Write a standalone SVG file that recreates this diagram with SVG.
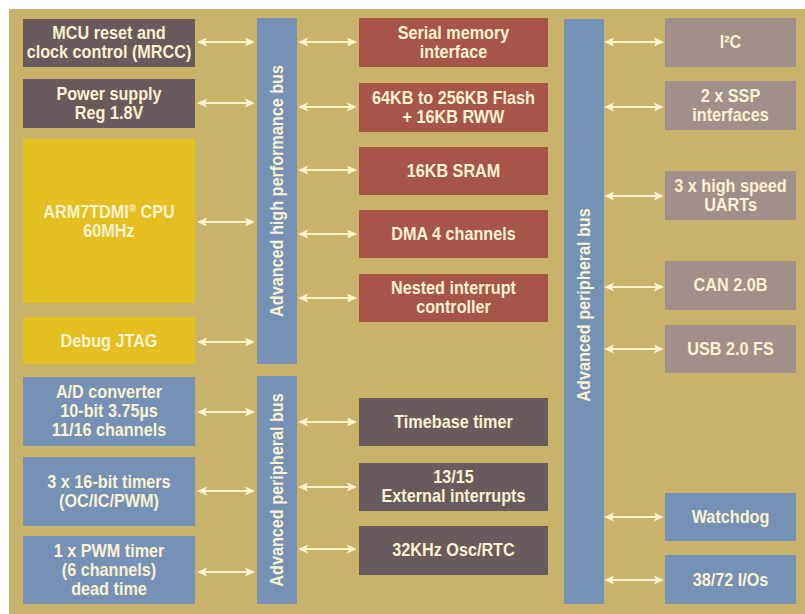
<svg xmlns="http://www.w3.org/2000/svg" width="805" height="614" viewBox="0 0 805 614">
<defs>
<style>
.t{font-family:"Liberation Sans",Arial,sans-serif;font-weight:bold;font-size:18px;fill:#FBF2D0;text-anchor:middle}
.dk{fill:#695A5D}.rd{fill:#A85549}.yl{fill:#E3BF20}.bl{fill:#7591B5}.mv{fill:#A18F8C}
.ar{stroke:#FBF2D0;stroke-width:2.2;fill:none;marker-start:url(#ah);marker-end:url(#ah)}
</style>
<marker id="ah" viewBox="0 0 10 10" markerWidth="10" markerHeight="10" markerUnits="userSpaceOnUse" refX="6" refY="5" orient="auto-start-reverse">
<path d="M0,0.5 L10,5 L0,9.5 L2,5 z" fill="#FBF2D0"/>
</marker>
</defs>
<rect x="0" y="0" width="805" height="614" fill="#FFFFFF"/>
<rect x="9" y="9" width="796" height="605" fill="#C9B36B"/>

<g id="connectors">
<line class="ar" x1="201" y1="42" x2="251" y2="42"/>
<line class="ar" x1="201" y1="103" x2="251" y2="103"/>
<line class="ar" x1="201" y1="222" x2="251" y2="222"/>
<line class="ar" x1="201" y1="342" x2="251" y2="342"/>
<line class="ar" x1="201" y1="412" x2="251" y2="412"/>
<line class="ar" x1="201" y1="491" x2="251" y2="491"/>
<line class="ar" x1="201" y1="572" x2="251" y2="572"/>
<line class="ar" x1="302" y1="42" x2="353" y2="42"/>
<line class="ar" x1="302" y1="107" x2="353" y2="107"/>
<line class="ar" x1="302" y1="170" x2="353" y2="170"/>
<line class="ar" x1="302" y1="234" x2="353" y2="234"/>
<line class="ar" x1="302" y1="298" x2="353" y2="298"/>
<line class="ar" x1="302" y1="422" x2="353" y2="422"/>
<line class="ar" x1="302" y1="487" x2="353" y2="487"/>
<line class="ar" x1="302" y1="549" x2="353" y2="549"/>
<line class="ar" x1="608" y1="42" x2="660" y2="42"/>
<line class="ar" x1="608" y1="107" x2="660" y2="107"/>
<line class="ar" x1="608" y1="196" x2="660" y2="196"/>
<line class="ar" x1="608" y1="287" x2="660" y2="287"/>
<line class="ar" x1="608" y1="349" x2="660" y2="349"/>
<line class="ar" x1="608" y1="517" x2="660" y2="517"/>
<line class="ar" x1="608" y1="580" x2="660" y2="580"/>
</g>

<g id="mrcc"><rect class="dk" x="23" y="19" width="172" height="48"/><text class="t" transform="matrix(0.9 0 0 1 109 0)" x="0" y="39">MCU reset and</text><text class="t" transform="matrix(0.9 0 0 1 109 0)" x="0" y="58">clock control (MRCC)</text></g>
<g id="power"><rect class="dk" x="23" y="79" width="172" height="49"/><text class="t" transform="matrix(0.9 0 0 1 109 0)" x="0" y="100">Power supply</text><text class="t" transform="matrix(0.9 0 0 1 109 0)" x="0" y="119">Reg 1.8V</text></g>
<g id="cpu"><rect class="yl" x="23" y="139" width="172" height="164"/><text class="t" transform="matrix(0.9 0 0 1 109 0)" x="0" y="218">ARM7TDMI<tspan font-size="11" baseline-shift="60%">®</tspan> CPU</text><text class="t" transform="matrix(0.9 0 0 1 109 0)" x="0" y="237">60MHz</text></g>
<g id="jtag"><rect class="yl" x="23" y="317" width="172" height="47"/><text class="t" transform="matrix(0.9 0 0 1 109 0)" x="0" y="347">Debug JTAG</text></g>
<g id="adc"><rect class="bl" x="23" y="377" width="172" height="69"/><text class="t" transform="matrix(0.9 0 0 1 109 0)" x="0" y="398">A/D converter</text><text class="t" transform="matrix(0.9 0 0 1 109 0)" x="0" y="417">10-bit 3.75µs</text><text class="t" transform="matrix(0.9 0 0 1 109 0)" x="0" y="436">11/16 channels</text></g>
<g id="timers"><rect class="bl" x="23" y="457" width="172" height="69"/><text class="t" transform="matrix(0.9 0 0 1 109 0)" x="0" y="488">3 x 16-bit timers</text><text class="t" transform="matrix(0.9 0 0 1 109 0)" x="0" y="507">(OC/IC/PWM)</text></g>
<g id="pwm"><rect class="bl" x="23" y="536" width="172" height="68"/><text class="t" transform="matrix(0.9 0 0 1 109 0)" x="0" y="557">1 x PWM timer</text><text class="t" transform="matrix(0.9 0 0 1 109 0)" x="0" y="576">(6 channels)</text><text class="t" transform="matrix(0.9 0 0 1 109 0)" x="0" y="595">dead time</text></g>

<g id="ahb"><rect class="bl" x="257" y="18" width="40" height="346"/><text class="t" transform="translate(283,191) rotate(-90) scale(0.9,1)">Advanced high performance bus</text></g>
<g id="apb1"><rect class="bl" x="257" y="376" width="40" height="228"/><text class="t" transform="translate(283,490) rotate(-90) scale(0.9,1)">Advanced peripheral bus</text></g>

<g id="serial"><rect class="rd" x="359" y="18" width="189" height="49"/><text class="t" transform="matrix(0.9 0 0 1 453.5 0)" x="0" y="39">Serial memory</text><text class="t" transform="matrix(0.9 0 0 1 453.5 0)" x="0" y="58">interface</text></g>
<g id="flash"><rect class="rd" x="359" y="83" width="189" height="49"/><text class="t" transform="matrix(0.9 0 0 1 453.5 0)" x="0" y="104">64KB to 256KB Flash</text><text class="t" transform="matrix(0.9 0 0 1 453.5 0)" x="0" y="123">+ 16KB RWW</text></g>
<g id="sram"><rect class="rd" x="359" y="147" width="189" height="48"/><text class="t" transform="matrix(0.9 0 0 1 453.5 0)" x="0" y="177">16KB SRAM</text></g>
<g id="dma"><rect class="rd" x="359" y="210" width="189" height="48"/><text class="t" transform="matrix(0.9 0 0 1 453.5 0)" x="0" y="240">DMA 4 channels</text></g>
<g id="nvic"><rect class="rd" x="359" y="274" width="189" height="48"/><text class="t" transform="matrix(0.9 0 0 1 453.5 0)" x="0" y="294">Nested interrupt</text><text class="t" transform="matrix(0.9 0 0 1 453.5 0)" x="0" y="313">controller</text></g>
<g id="timebase"><rect class="dk" x="359" y="398" width="189" height="48"/><text class="t" transform="matrix(0.9 0 0 1 453.5 0)" x="0" y="428">Timebase timer</text></g>
<g id="extint"><rect class="dk" x="359" y="463" width="189" height="48"/><text class="t" transform="matrix(0.9 0 0 1 453.5 0)" x="0" y="483">13/15</text><text class="t" transform="matrix(0.9 0 0 1 453.5 0)" x="0" y="502">External interrupts</text></g>
<g id="rtc"><rect class="dk" x="359" y="526" width="189" height="49"/><text class="t" transform="matrix(0.9 0 0 1 453.5 0)" x="0" y="556">32KHz Osc/RTC</text></g>

<g id="apb2"><rect class="bl" x="564" y="19" width="40" height="585"/><text class="t" transform="translate(590,305) rotate(-90) scale(0.9,1)">Advanced peripheral bus</text></g>

<g id="i2c"><rect class="mv" x="665" y="18" width="131" height="49"/><text class="t" transform="matrix(0.9 0 0 1 730.5 0)" x="0" y="48">I²C</text></g>
<g id="ssp"><rect class="mv" x="665" y="81" width="131" height="49"/><text class="t" transform="matrix(0.9 0 0 1 730.5 0)" x="0" y="102">2 x SSP</text><text class="t" transform="matrix(0.9 0 0 1 730.5 0)" x="0" y="121">interfaces</text></g>
<g id="uart"><rect class="mv" x="665" y="171" width="131" height="49"/><text class="t" transform="matrix(0.9 0 0 1 730.5 0)" x="0" y="192">3 x high speed</text><text class="t" transform="matrix(0.9 0 0 1 730.5 0)" x="0" y="211">UARTs</text></g>
<g id="can"><rect class="mv" x="665" y="261" width="131" height="49"/><text class="t" transform="matrix(0.9 0 0 1 730.5 0)" x="0" y="291">CAN 2.0B</text></g>
<g id="usb"><rect class="mv" x="665" y="325" width="131" height="48"/><text class="t" transform="matrix(0.9 0 0 1 730.5 0)" x="0" y="355">USB 2.0 FS</text></g>
<g id="watchdog"><rect class="bl" x="665" y="493" width="131" height="48"/><text class="t" transform="matrix(0.9 0 0 1 730.5 0)" x="0" y="523">Watchdog</text></g>
<g id="io"><rect class="bl" x="665" y="555" width="131" height="49"/><text class="t" transform="matrix(0.9 0 0 1 730.5 0)" x="0" y="586">38/72 I/Os</text></g>
</svg>
